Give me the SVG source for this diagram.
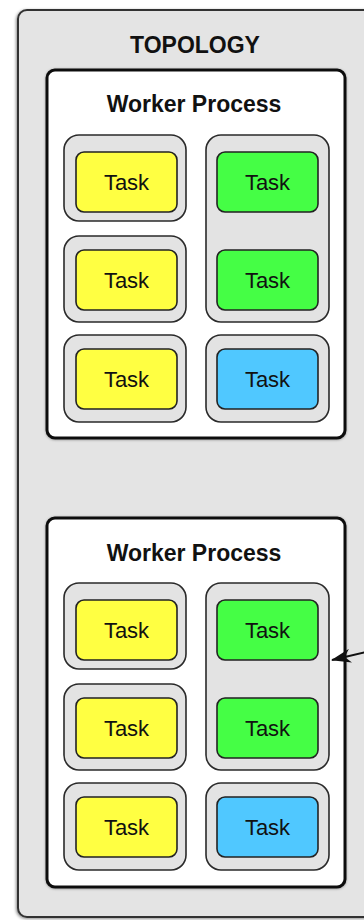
<svg xmlns="http://www.w3.org/2000/svg" width="364" height="920" viewBox="0 0 364 920">
<defs>
<filter id="sh" x="-10%" y="-10%" width="130%" height="130%"><feDropShadow dx="-1" dy="1" stdDeviation="1.5" flood-color="#000" flood-opacity="0.45"/></filter>
<filter id="sh2" x="-10%" y="-10%" width="130%" height="130%"><feDropShadow dx="0" dy="0.5" stdDeviation="0.8" flood-color="#000" flood-opacity="0.35"/></filter>
<marker id="ah" viewBox="0 0 20 14" refX="19" refY="7" markerWidth="20" markerHeight="14" markerUnits="userSpaceOnUse" orient="auto"><path d="M0,0 L20,7 L0,14 L6,7 Z" fill="#111"/></marker>
</defs>
<style>
.topo{fill:#e4e4e4;stroke:#333;stroke-width:2}
.wp{fill:#fff;stroke:#111;stroke-width:3}
.ct{fill:#e3e3e3;stroke:#2a2a2a;stroke-width:1.6}
.tk{stroke:#222;stroke-width:1.6}
.y{fill:#ffff42}.g{fill:#45fe45}.b{fill:#50c8ff}
.t{font-family:"Liberation Sans",Arial,sans-serif;font-size:22px;fill:#111;text-anchor:middle}
.h{font-family:"Liberation Sans",Arial,sans-serif;font-size:23px;font-weight:bold;fill:#111;text-anchor:middle}
.cn{stroke:#111;stroke-width:2;fill:none}
</style>
<g id="topology">
<rect class="topo" x="18" y="10" width="360" height="907" rx="9" filter="url(#sh)"/>
<text class="h" x="195" y="53">TOPOLOGY</text>
</g>
<g id="worker1">
<rect class="wp" x="47" y="70" width="298" height="368" rx="8" filter="url(#sh2)"/>
<text class="h" x="194" y="112">Worker Process</text>
<g id="w1c1"><rect class="ct" x="64" y="135" width="122" height="86" rx="15"/></g>
<g id="w1c2"><rect class="ct" x="64" y="236" width="122" height="86" rx="15"/></g>
<g id="w1c3"><rect class="ct" x="64" y="335" width="122" height="87" rx="15"/></g>
<g id="w1c4"><rect class="ct" x="206" y="135" width="123" height="187" rx="15"/></g>
<g id="w1c5"><rect class="ct" x="206" y="335" width="123" height="87" rx="15"/></g>
<g id="w1t1"><rect class="tk y" x="76" y="152" width="101" height="60" rx="8"/><text class="t" x="126.5" y="190">Task</text></g>
<g id="w1t2"><rect class="tk y" x="76" y="250" width="101" height="60" rx="8"/><text class="t" x="126.5" y="288">Task</text></g>
<g id="w1t3"><rect class="tk y" x="76" y="349" width="101" height="60" rx="8"/><text class="t" x="126.5" y="387">Task</text></g>
<g id="w1t4"><rect class="tk g" x="217" y="152" width="101" height="60" rx="8"/><text class="t" x="267.5" y="190">Task</text></g>
<g id="w1t5"><rect class="tk g" x="217" y="250" width="101" height="60" rx="8"/><text class="t" x="267.5" y="288">Task</text></g>
<g id="w1t6"><rect class="tk b" x="217" y="349" width="101" height="60" rx="8"/><text class="t" x="267.5" y="387">Task</text></g>
</g>
<g id="worker2">
<rect class="wp" x="47" y="518" width="298" height="369" rx="8" filter="url(#sh2)"/>
<text class="h" x="194" y="561">Worker Process</text>
<g id="w2c1"><rect class="ct" x="64" y="583" width="122" height="86" rx="15"/></g>
<g id="w2c2"><rect class="ct" x="64" y="684" width="122" height="86" rx="15"/></g>
<g id="w2c3"><rect class="ct" x="64" y="783" width="122" height="87" rx="15"/></g>
<g id="w2c4"><rect class="ct" x="206" y="583" width="123" height="187" rx="15"/></g>
<g id="w2c5"><rect class="ct" x="206" y="783" width="123" height="87" rx="15"/></g>
<g id="w2t1"><rect class="tk y" x="76" y="600" width="101" height="60" rx="8"/><text class="t" x="126.5" y="638">Task</text></g>
<g id="w2t2"><rect class="tk y" x="76" y="698" width="101" height="60" rx="8"/><text class="t" x="126.5" y="736">Task</text></g>
<g id="w2t3"><rect class="tk y" x="76" y="797" width="101" height="60" rx="8"/><text class="t" x="126.5" y="835">Task</text></g>
<g id="w2t4"><rect class="tk g" x="217" y="600" width="101" height="60" rx="8"/><text class="t" x="267.5" y="638">Task</text></g>
<g id="w2t5"><rect class="tk g" x="217" y="698" width="101" height="60" rx="8"/><text class="t" x="267.5" y="736">Task</text></g>
<g id="w2t6"><rect class="tk b" x="217" y="797" width="101" height="60" rx="8"/><text class="t" x="267.5" y="835">Task</text></g>
</g>
<g id="connectors">
<path class="cn" d="M366,652 L332,660" marker-end="url(#ah)"/>
</g>
</svg>
